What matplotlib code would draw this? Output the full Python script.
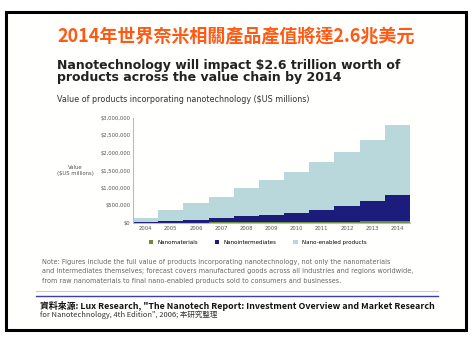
import matplotlib
matplotlib.use("Agg")
import matplotlib.pyplot as plt
from matplotlib.patches import Rectangle
from matplotlib.ticker import FuncFormatter

plt.rcParams['font.family'] = ['DejaVu Sans', 'Noto Sans CJK TC']

# data ($US millions)
years = [2004, 2005, 2006, 2007, 2008, 2009, 2010, 2011, 2012, 2013, 2014]
nanomaterials = [5000, 8000, 12000, 16000, 20000, 25000, 30000, 36000, 42000, 50000, 60000]
intermediates = [25000, 52000, 88000, 134000, 170000, 215000, 270000, 344000, 438000, 570000, 740000]
enabled = [104000, 311000, 462000, 602000, 800000, 989000, 1167000, 1372000, 1558000, 1751000, 2000000]
yticks = [0, 500000, 1000000, 1500000, 2000000, 2500000, 3000000]

fig = plt.figure(figsize=(4.72, 3.38), dpi=100)
fig.patch.set_facecolor('white')

# slide frame
fig.add_artist(Rectangle((6/472, 1 - 330/338), 460/472, 318/338, transform=fig.transFigure,
                         facecolor='#fffffd', edgecolor='black', lw=2.2, zorder=-1))

fig.text(0.5, 1 - 37/338, '2014年世界奈米相關產品產值將達2.6兆美元', ha='center', va='center',
         fontsize=13, fontweight='bold', color='#ff5a14', family=['Noto Sans CJK TC', 'DejaVu Sans'])
fig.text(57/472, 1 - 65/338, 'Nanotechnology will impact $2.6 trillion worth of', ha='left', va='center',
         fontsize=9, fontweight='bold', color='#222222')
fig.text(57/472, 1 - 78/338, 'products across the value chain by 2014', ha='left', va='center',
         fontsize=9, fontweight='bold', color='#222222')
fig.text(57/472, 1 - 100/338, 'Value of products incorporating nanotechnology ($US millions)', ha='left',
         va='center', fontsize=5.8, color='#333333')

ax = fig.add_axes([133/472, 1 - 223/338, 277/472, 105/338])
ax.bar(years, nanomaterials, width=1.0, color='#6b8e3a', lw=0)
ax.bar(years, intermediates, width=1.0, bottom=nanomaterials, color='#1c1c7c', lw=0)
bottom2 = [a + b for a, b in zip(nanomaterials, intermediates)]
ax.bar(years, enabled, width=1.0, bottom=bottom2, color='#b9d8dc', lw=0)
ax.set_facecolor('none')
ax.set_xlim(years[0] - 0.5, years[-1] + 0.5)
ax.set_ylim(0, 3000000)
ax.set_yticks(yticks)
ax.yaxis.set_major_formatter(FuncFormatter(lambda v, p: f'${v:,.0f}'))
ax.set_xticks(years)
ax.tick_params(labelsize=3.8, length=0, pad=2, colors='#555555')
for s in ['top', 'right']:
    ax.spines[s].set_visible(False)
ax.spines['left'].set_color('#bbbbbb')
ax.spines['bottom'].set_color('#bbbbbb')
ax.set_ylabel('Value\n($US millions)', fontsize=3.8, color='#555555', rotation=0, labelpad=18, va='center')
ax.legend(['Nanomaterials', 'Nanointermediates', 'Nano-enabled products'], loc='upper center',
          bbox_to_anchor=(0.45, -0.11), ncol=3, fontsize=4, frameon=False,
          handlelength=0.8, handleheight=0.8, columnspacing=3)

notes = [
    'Note: Figures include the full value of products incorporating nanotechnology, not only the nanomaterials',
    'and intermediates themselves; forecast covers manufactured goods across all industries and regions worldwide,',
    'from raw nanomaterials to final nano-enabled products sold to consumers and businesses.',
]
for i, line in enumerate(notes):
    fig.text(42/472, 1 - (262 + i * 9.5)/338, line, ha='left', va='center', fontsize=4.7, color='#666666')

fig.add_artist(plt.Line2D([36/472, 438/472], [1 - 291/338] * 2, transform=fig.transFigure,
                          color='#c7c7ea', lw=0.8))
fig.add_artist(plt.Line2D([36/472, 438/472], [1 - 296/338] * 2, transform=fig.transFigure,
                          color='#3d3db0', lw=1.0))

fig.text(40/472, 1 - 306/338, '資料來源: Lux Research, "The Nanotech Report: Investment Overview and Market Research',
         ha='left', va='center', fontsize=6.4, fontweight='bold', color='#111111',
         family=['Noto Sans CJK TC', 'DejaVu Sans'])
fig.text(40/472, 1 - 315/338, 'for Nanotechnology, 4th Edition", 2006; 本研究整理',
         ha='left', va='center', fontsize=5.4, color='#333333', family=['Noto Sans CJK TC', 'DejaVu Sans'])

fig.savefig('out.png', dpi=100)
